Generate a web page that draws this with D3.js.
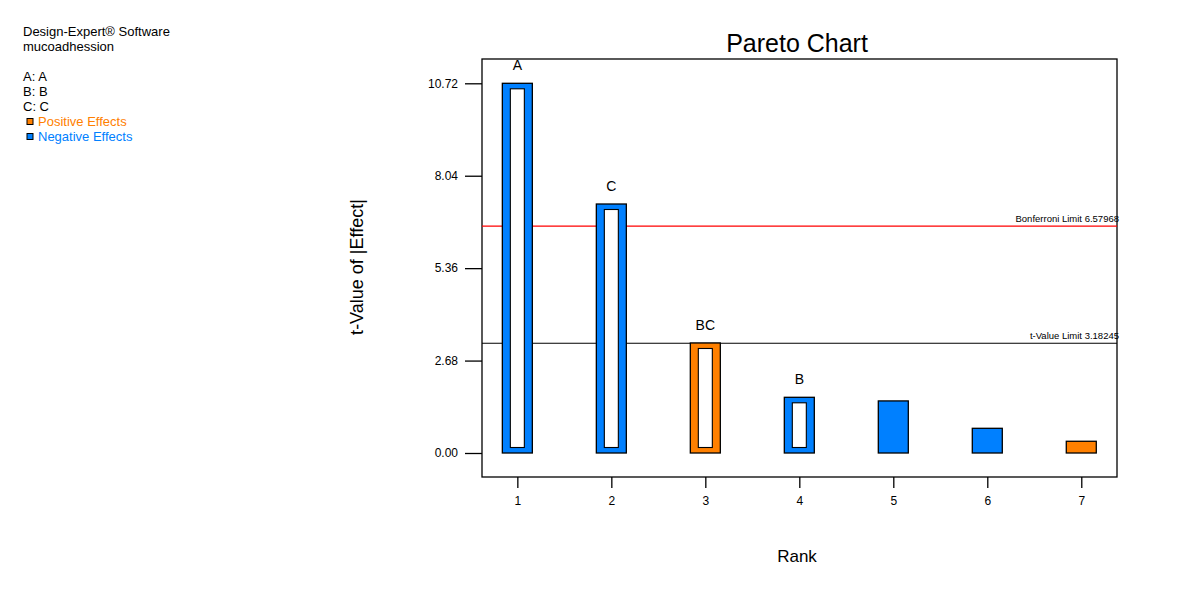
<!DOCTYPE html>
<html><head><meta charset="utf-8">
<script src="https://cdn.jsdelivr.net/npm/d3@7"></script>
<style>body{margin:0;background:#fff;} svg{display:block;font-family:"Liberation Sans",Arial,sans-serif;}</style>
</head><body>
<script>
const ranks = [1,2,3,4,5,6,7];
const tValues = [10.72, 7.22, 3.19, 1.615, 1.51, 0.716, 0.34];
const signs = ["neg","neg","pos","neg","neg","neg","pos"];
const barLabels = ["A","C","BC","B","","",""];
const yTicks = [0, 2.68, 5.36, 8.04, 10.72];
const limits = [{name:"Bonferroni Limit 6.57968", value:6.57968, color:"#ff0000"},
                {name:"t-Value Limit 3.18245", value:3.18245, color:"#000000"}];
const legendLines = ["Design-Expert® Software","mucoadhession","","A: A","B: B","C: C"];
const colors = {pos:"#ff8000", neg:"#0080ff"};

const W=1204,H=591;
const svg=d3.select("body").append("svg").attr("width",W).attr("height",H);
const L=482,R=1117,T=59,B=477;
const x=d3.scaleLinear().domain([0.624,7.38]).range([L,R]);
const y=d3.scaleLinear().domain([0,10.72]).range([453,83.3]);

// frame
svg.append("rect").attr("x",L).attr("y",T).attr("width",R-L).attr("height",B-T)
  .attr("fill","none").attr("stroke","#000").attr("stroke-width",1.3);

// y axis
const ya=svg.append("g").attr("transform",`translate(${L},0)`)
  .call(d3.axisLeft(y).tickValues(yTicks).tickFormat(d3.format(".2f")).tickSize(17).tickPadding(7));
ya.select(".domain").remove();
ya.selectAll("line").attr("stroke","#000").attr("stroke-width",1.3);
ya.selectAll("text").attr("font-size",12).attr("fill","#000").attr("font-family","Liberation Sans, Arial, sans-serif");

// x axis
const xa=svg.append("g").attr("transform",`translate(0,${B})`)
  .call(d3.axisBottom(x).tickValues(ranks).tickFormat(d3.format("d")).tickSize(11).tickPadding(8));
xa.select(".domain").remove();
xa.selectAll("line").attr("stroke","#000").attr("stroke-width",1.3);
xa.selectAll("text").attr("font-size",12).attr("fill","#000").attr("font-family","Liberation Sans, Arial, sans-serif");

// limit lines
limits.forEach(l=>{
  svg.append("line").attr("x1",L).attr("x2",R).attr("y1",y(l.value)).attr("y2",y(l.value))
    .attr("stroke",l.color).attr("stroke-width",1.1);
  svg.append("text").attr("x",R+2).attr("y",y(l.value)-4).attr("text-anchor","end")
    .attr("font-size",9.5).attr("fill","#000").text(l.name);
});

// bars
const bw=30;
ranks.forEach((r,i)=>{
  const cx=x(r), top=y(tValues[i]), bot=y(0);
  svg.append("rect").attr("x",cx-bw/2).attr("y",top).attr("width",bw).attr("height",bot-top)
    .attr("fill",colors[signs[i]]).attr("stroke","#000").attr("stroke-width",1.3);
  if(barLabels[i]){
    svg.append("rect").attr("x",cx-bw/2+8).attr("y",top+5.5).attr("width",bw-16).attr("height",bot-top-11)
      .attr("fill","#fff").attr("stroke","#000").attr("stroke-width",1.1);
    svg.append("text").attr("x",cx).attr("y",top-13).attr("text-anchor","middle")
      .attr("font-size",14).attr("fill","#000").text(barLabels[i]);
  }
});

// titles
svg.append("text").attr("x",797).attr("y",52).attr("text-anchor","middle").attr("font-size",25).text("Pareto Chart");
svg.append("text").attr("x",797).attr("y",562).attr("text-anchor","middle").attr("font-size",17).text("Rank");
svg.append("text").attr("transform","translate(363,267) rotate(-90)").attr("text-anchor","middle").attr("font-size",18).text("t-Value of |Effect|");

// legend
legendLines.forEach((t,i)=>{
  svg.append("text").attr("x",23).attr("y",36+15*i).attr("font-size",13).attr("fill","#000").text(t);
});
[["Positive Effects","pos"],["Negative Effects","neg"]].forEach((d,i)=>{
  const yy=126+15*i;
  svg.append("rect").attr("x",27).attr("y",yy-7.5).attr("width",6).attr("height",6)
    .attr("fill",colors[d[1]]).attr("stroke","#000").attr("stroke-width",1);
  svg.append("text").attr("x",38).attr("y",yy).attr("font-size",13).attr("fill",colors[d[1]]).text(d[0]);
});
</script>
</body></html>
